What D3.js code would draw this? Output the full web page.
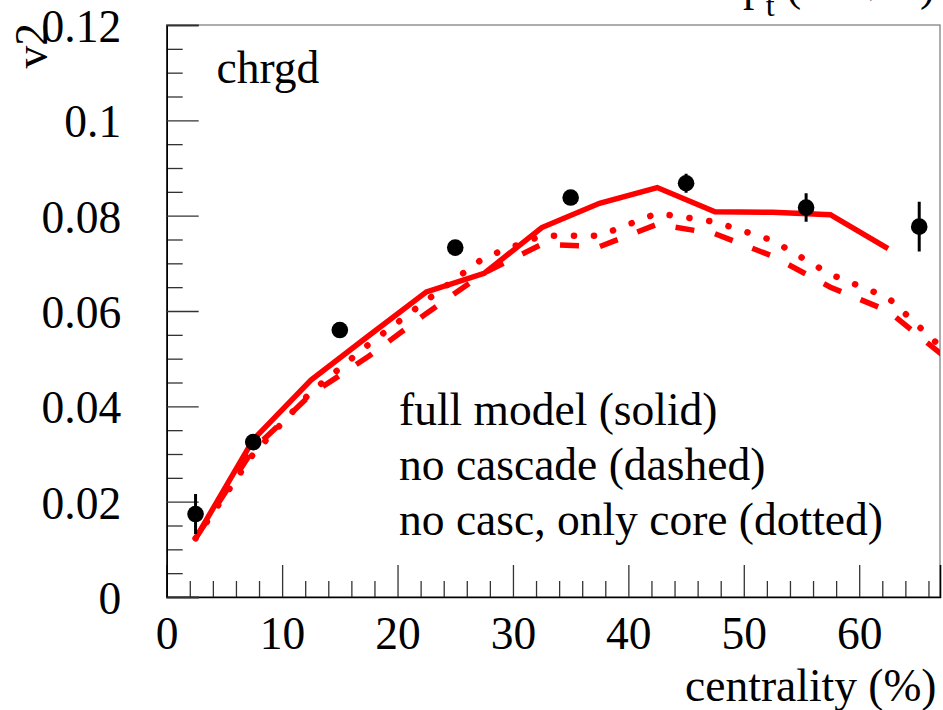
<!DOCTYPE html>
<html>
<head>
<meta charset="utf-8">
<script src="https://cdn.jsdelivr.net/npm/d3@7"></script>
<style>
  html, body { margin: 0; padding: 0; background: #fff; }
  svg { display: block; }
  svg text { font-family: "Liberation Serif", "Times New Roman", Times, serif !important; fill: #000; }
</style>
</head>
<body>
<svg id="chart" width="943" height="710"></svg>
<script>
// ---- data ----
const centrality = [2.5, 7.5, 15, 25, 35, 45, 55.4, 65.2];
const v2Data     = [0.0174, 0.0325, 0.0560, 0.0733, 0.0838, 0.0868, 0.0817, 0.0777];
const v2Err      = [0.0042, 0.0012, 0.0012, 0.0012, 0.0012, 0.0020, 0.0030, 0.0052];

const modelX     = [2.5, 7.5, 12.5, 17.5, 22.5, 27.5, 32.5, 37.5, 42.5, 47.5, 52.5, 57.5, 62.5, 67.5];
const fullModel  = [0.0123, 0.0330, 0.0455, 0.0548, 0.0640, 0.0679, 0.0775, 0.0826, 0.0859, 0.0808, 0.0807, 0.0802, 0.0731];
const noCascade  = [0.0123, 0.0310, 0.0425, 0.0505, 0.0595, 0.0680, 0.0740, 0.0735, 0.0782, 0.0762, 0.0715, 0.0650, 0.0600, 0.0502];
const coreOnly   = [0.0123, 0.0300, 0.0430, 0.0530, 0.0622, 0.0712, 0.0758, 0.0758, 0.0805, 0.0787, 0.0748, 0.0677, 0.0628, 0.0515];

const xTickValues = [0, 10, 20, 30, 40, 50, 60];
const yTickValues = [0, 0.02, 0.04, 0.06, 0.08, 0.1, 0.12];
const yTickLabels = ["0", "0.02", "0.04", "0.06", "0.08", "0.1", "0.12"];
const legendLines = ["full model (solid)", "no cascade (dashed)", "no casc, only core (dotted)"];

// ---- layout ----
const L = 166.7, R = 940, T = 25, B = 597;
const FS = 45.5;
const svg = d3.select("#chart");

const x = d3.scaleLinear().domain([0, 67]).range([L, R]);
const y = d3.scaleLinear().domain([0, 0.12]).range([B, T]);

svg.append("defs").append("clipPath").attr("id", "clip")
  .append("rect").attr("x", L).attr("y", T).attr("width", R - L).attr("height", B - T);

// frame (top/right grey)
svg.append("rect").attr("x", L).attr("y", T).attr("width", R - L).attr("height", B - T)
  .attr("fill", "none").attr("stroke", "#777").attr("stroke-width", 1.2);

// minor ticks
const xMinor = d3.range(0, 67, 2).filter(v => v % 10 !== 0);
const yMinor = d3.range(0, 0.1201, 0.005).filter(v => Math.abs(v / 0.02 - Math.round(v / 0.02)) > 1e-6);

const gxMinor = svg.append("g").attr("transform", `translate(0,${B})`)
  .call(d3.axisBottom(x).tickValues(xMinor).tickSize(-16).tickFormat(""));
gxMinor.select(".domain").remove();
const gyMinor = svg.append("g").attr("transform", `translate(${L},0)`)
  .call(d3.axisLeft(y).tickValues(yMinor).tickSize(-16).tickFormat(""));
gyMinor.select(".domain").remove();

// major axes
const gx = svg.append("g").attr("transform", `translate(0,${B})`)
  .call(d3.axisBottom(x).tickValues(xTickValues).tickSize(-32).tickFormat(d3.format("d")));
const gy = svg.append("g").attr("transform", `translate(${L},0)`)
  .call(d3.axisLeft(y).tickValues(yTickValues).tickSize(-32).tickFormat((d, i) => yTickLabels[i]));

[gx, gy, gxMinor, gyMinor].forEach(g => {
  g.attr("font-family", null).attr("font-size", null);
  g.selectAll(".tick line").attr("stroke", "#333").attr("stroke-width", 1.3);
  g.select(".domain").attr("stroke", "#000").attr("stroke-width", 1.6);
});
gx.selectAll("text").attr("y", 52).attr("dy", 0).attr("font-size", FS);
gy.selectAll("text").attr("x", -45.5).attr("dy", "0.36em").attr("font-size", FS);

// model curves
const line = d3.line().x(d => x(d[0])).y(d => y(d[1]));
const plot = svg.append("g").attr("clip-path", "url(#clip)");
const pairs = vals => vals.map((v, i) => [modelX[i], v]);

plot.append("path").datum(pairs(coreOnly)).attr("d", line)
  .attr("fill", "none").attr("stroke", "#ff0000").attr("stroke-width", 6.5)
  .attr("stroke-linecap", "round").attr("stroke-dasharray", "0.1,19.9");
plot.append("path").datum(pairs(noCascade)).attr("d", line)
  .attr("fill", "none").attr("stroke", "#ff0000").attr("stroke-width", 5.5)
  .attr("stroke-dasharray", "19,21");
plot.append("path").datum(pairs(fullModel)).attr("d", line)
  .attr("fill", "none").attr("stroke", "#ff0000").attr("stroke-width", 5.5)
  .attr("stroke-linejoin", "miter");

// data points with error bars
const pts = plot.append("g");
pts.selectAll("line.err").data(centrality).join("line").attr("class", "err")
  .attr("x1", d => x(d)).attr("x2", d => x(d))
  .attr("y1", (d, i) => y(v2Data[i] - v2Err[i])).attr("y2", (d, i) => y(v2Data[i] + v2Err[i]))
  .attr("stroke", "#000").attr("stroke-width", 3);
pts.selectAll("circle").data(centrality).join("circle")
  .attr("cx", d => x(d)).attr("cy", (d, i) => y(v2Data[i])).attr("r", 8.3).attr("fill", "#000");

// texts
svg.append("text").attr("x", 216.5).attr("y", 83).attr("font-size", FS).text("chrgd");

svg.selectAll("text.leg").data(legendLines).join("text").attr("class", "leg")
  .attr("x", 399).attr("y", (d, i) => 425 + i * 55).attr("font-size", FS).text(d => d);

svg.append("text").attr("x", 936.5).attr("y", 701).attr("text-anchor", "end")
  .attr("font-size", FS).text("centrality (%)");

svg.append("text").attr("transform", "translate(47,23) rotate(-90)").attr("text-anchor", "end")
  .attr("font-size", FS).text("v2");

const pt = svg.append("text").attr("x", 743).attr("y", 0).attr("font-size", FS);
pt.append("tspan").text("p");
pt.append("tspan").attr("font-size", 32).attr("dy", 16).text("t");
pt.append("tspan").attr("dy", -16).text(" (GeV/c)");
</script>
</body>
</html>
